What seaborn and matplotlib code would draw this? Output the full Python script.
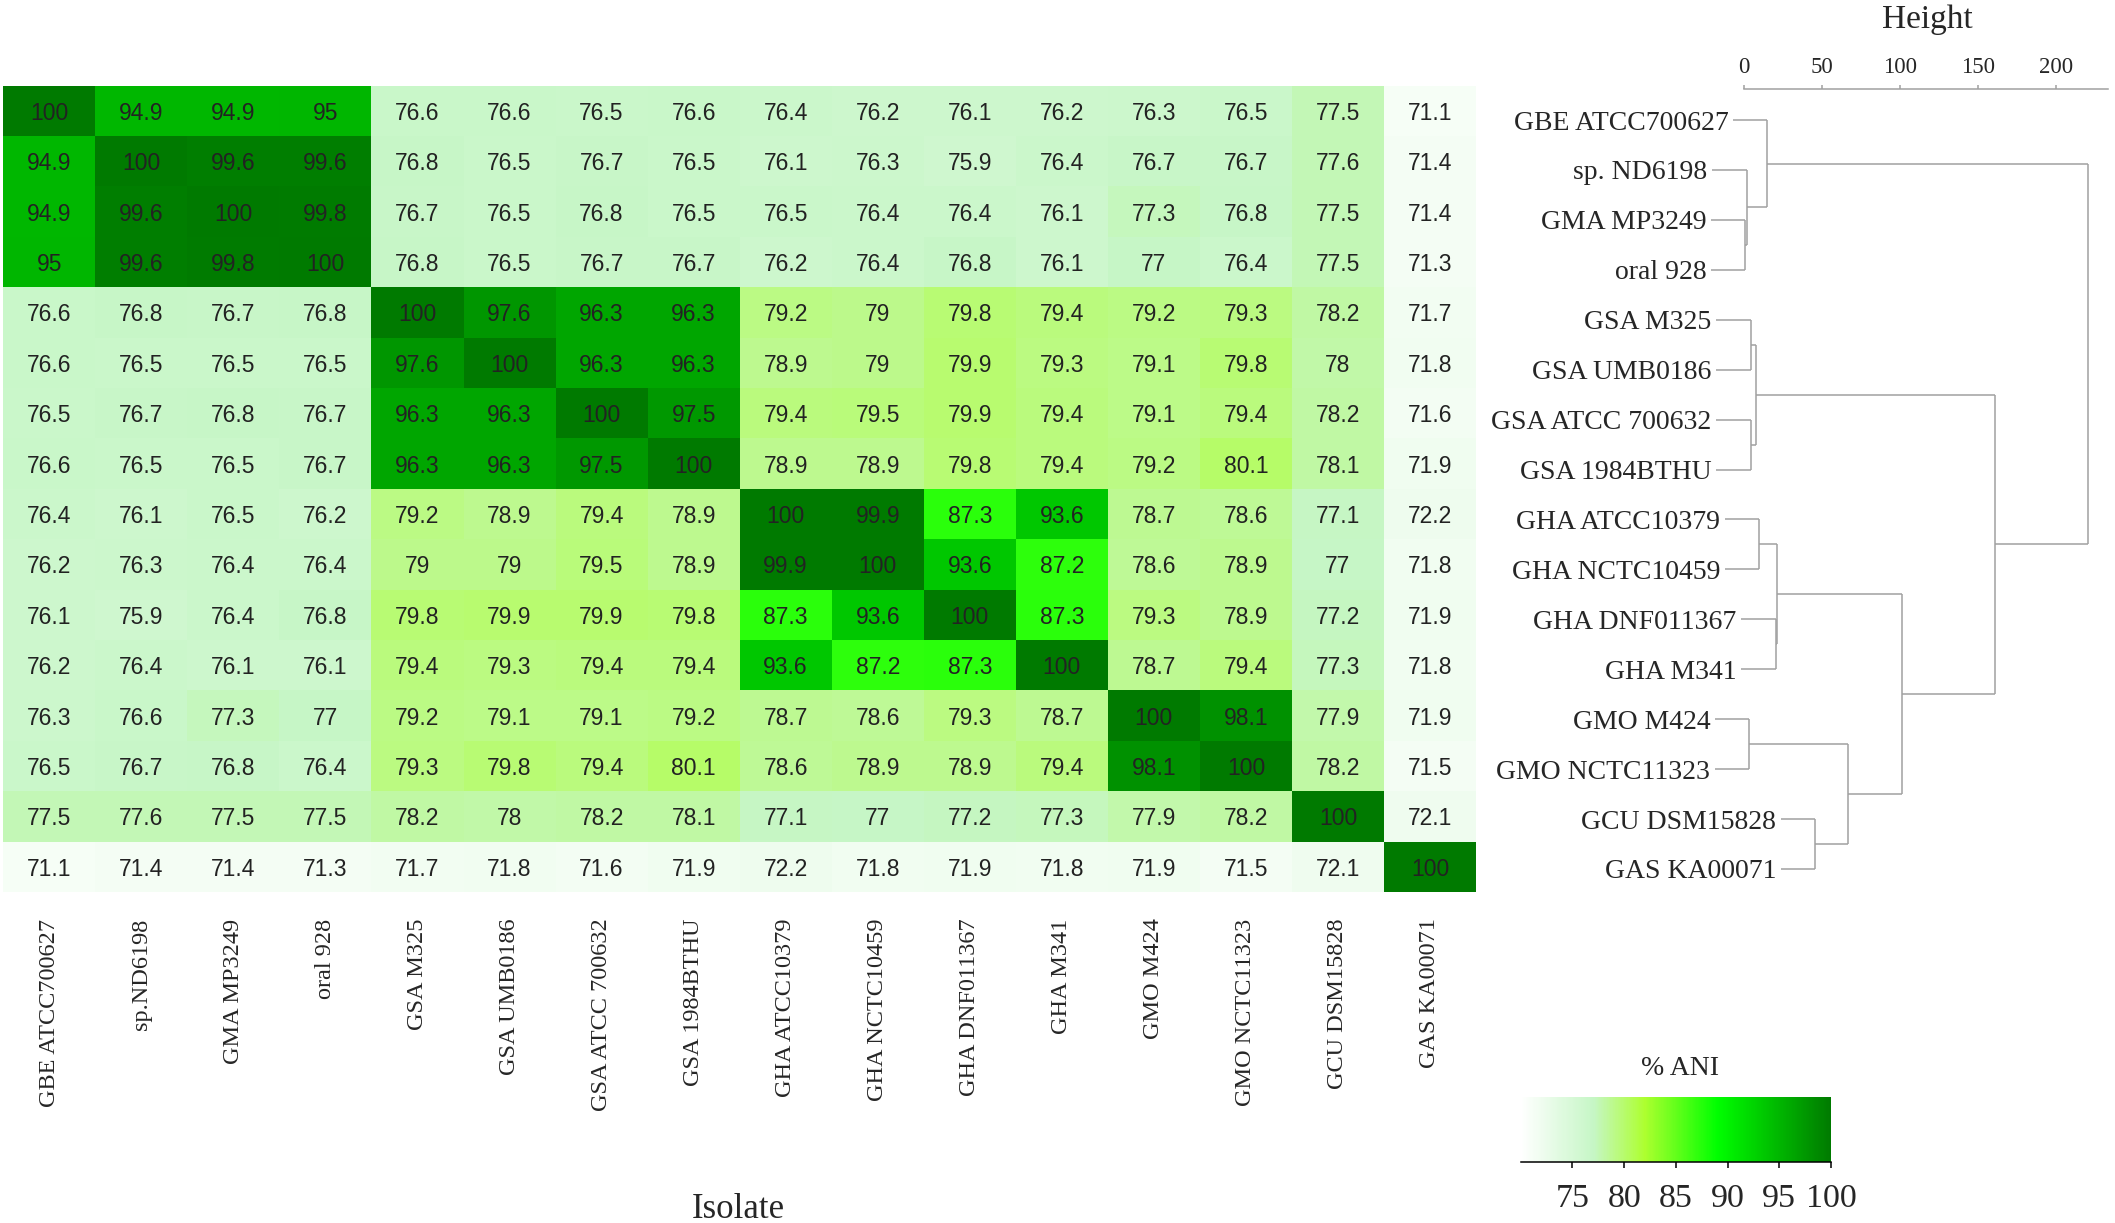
import numpy as np
import pandas as pd
import matplotlib
matplotlib.use("Agg")
import matplotlib.pyplot as plt
import seaborn as sns
from matplotlib.colors import LinearSegmentedColormap

# isolate names (rows = dendrogram labels, cols = bottom labels)
row_labels = ["GBE ATCC700627", "sp. ND6198", "GMA MP3249", "oral 928",
              "GSA M325", "GSA UMB0186", "GSA ATCC 700632", "GSA 1984BTHU",
              "GHA ATCC10379", "GHA NCTC10459", "GHA DNF011367", "GHA M341",
              "GMO M424", "GMO NCTC11323", "GCU DSM15828", "GAS KA00071"]
col_labels = ["GBE ATCC700627", "sp.ND6198", "GMA MP3249", "oral 928",
              "GSA M325", "GSA UMB0186", "GSA ATCC 700632", "GSA 1984BTHU",
              "GHA ATCC10379", "GHA NCTC10459", "GHA DNF011367", "GHA M341",
              "GMO M424", "GMO NCTC11323", "GCU DSM15828", "GAS KA00071"]

# % ANI matrix
ani = [
    [100, 94.9, 94.9, 95, 76.6, 76.6, 76.5, 76.6, 76.4, 76.2, 76.1, 76.2, 76.3, 76.5, 77.5, 71.1],
    [94.9, 100, 99.6, 99.6, 76.8, 76.5, 76.7, 76.5, 76.1, 76.3, 75.9, 76.4, 76.7, 76.7, 77.6, 71.4],
    [94.9, 99.6, 100, 99.8, 76.7, 76.5, 76.8, 76.5, 76.5, 76.4, 76.4, 76.1, 77.3, 76.8, 77.5, 71.4],
    [95, 99.6, 99.8, 100, 76.8, 76.5, 76.7, 76.7, 76.2, 76.4, 76.8, 76.1, 77, 76.4, 77.5, 71.3],
    [76.6, 76.8, 76.7, 76.8, 100, 97.6, 96.3, 96.3, 79.2, 79, 79.8, 79.4, 79.2, 79.3, 78.2, 71.7],
    [76.6, 76.5, 76.5, 76.5, 97.6, 100, 96.3, 96.3, 78.9, 79, 79.9, 79.3, 79.1, 79.8, 78, 71.8],
    [76.5, 76.7, 76.8, 76.7, 96.3, 96.3, 100, 97.5, 79.4, 79.5, 79.9, 79.4, 79.1, 79.4, 78.2, 71.6],
    [76.6, 76.5, 76.5, 76.7, 96.3, 96.3, 97.5, 100, 78.9, 78.9, 79.8, 79.4, 79.2, 80.1, 78.1, 71.9],
    [76.4, 76.1, 76.5, 76.2, 79.2, 78.9, 79.4, 78.9, 100, 99.9, 87.3, 93.6, 78.7, 78.6, 77.1, 72.2],
    [76.2, 76.3, 76.4, 76.4, 79, 79, 79.5, 78.9, 99.9, 100, 93.6, 87.2, 78.6, 78.9, 77, 71.8],
    [76.1, 75.9, 76.4, 76.8, 79.8, 79.9, 79.9, 79.8, 87.3, 93.6, 100, 87.3, 79.3, 78.9, 77.2, 71.9],
    [76.2, 76.4, 76.1, 76.1, 79.4, 79.3, 79.4, 79.4, 93.6, 87.2, 87.3, 100, 78.7, 79.4, 77.3, 71.8],
    [76.3, 76.6, 77.3, 77, 79.2, 79.1, 79.1, 79.2, 78.7, 78.6, 79.3, 78.7, 100, 98.1, 77.9, 71.9],
    [76.5, 76.7, 76.8, 76.4, 79.3, 79.8, 79.4, 80.1, 78.6, 78.9, 78.9, 79.4, 98.1, 100, 78.2, 71.5],
    [77.5, 77.6, 77.5, 77.5, 78.2, 78, 78.2, 78.1, 77.1, 77, 77.2, 77.3, 77.9, 78.2, 100, 72.1],
    [71.1, 71.4, 71.4, 71.3, 71.7, 71.8, 71.6, 71.9, 72.2, 71.8, 71.9, 71.8, 71.9, 71.5, 72.1, 100],
]

# hclust-style merges: negative = leaf (1-based), positive = earlier merge
merge_a = [-3, -2, -1, -5, -7, 4, -9, -11, 7, -13, -15, 10, 9, 6, 3]
merge_b = [-4, 1, 2, -6, -8, 5, -10, -12, 8, -14, -16, 11, 12, 13, 14]
merge_h = [0.9, 1.7, 15.0, 4.3, 4.3, 7.7, 9.8, 20.4, 21.3, 3.4, 45.6, 66.7, 101.0, 161.0, 220.7]

height_ticks = [0, 50, 100, 150, 200]
cbar_ticks = [75, 80, 85, 90, 95, 100]

sns.set_style("white")
plt.rcParams["font.family"] = ["Liberation Serif", "DejaVu Serif"]

W, H = 2115, 1223
fig = plt.figure(figsize=(W / 100, H / 100), dpi=100)

def px_axes(x0, y0, x1, y1):
    return fig.add_axes([x0 / W, 1 - y1 / H, (x1 - x0) / W, (y1 - y0) / H])

ax = px_axes(3.3, 85.7, 1476, 892)
cax = px_axes(1520.7, 1097, 1831, 1162)
dax = px_axes(1744, 89, 2108, 892)

cmap = LinearSegmentedColormap.from_list(
    "ani", [(0.0, "#ffffff"), (7 / 30, "#c6f6c6"), (12 / 30, "#adff2f"),
            (19 / 30, "#00ff00"), (1.0, "#007a00")])

df = pd.DataFrame(ani, index=row_labels, columns=col_labels)
labels = np.array([["{:g}".format(v) for v in row] for row in ani])

sns.heatmap(df, ax=ax, cmap=cmap, vmin=70, vmax=100, annot=labels, fmt="",
            annot_kws={"fontsize": 16.5, "color": "#222222", "family": "Liberation Sans",
                       "va": "center_baseline"},
            xticklabels=True, yticklabels=False, cbar_ax=cax,
            cbar_kws={"orientation": "horizontal", "ticks": cbar_ticks})
ax.set_xlabel("")
ax.set_ylabel("")
ax.tick_params(axis="x", length=0, pad=19)
for t in ax.get_xticklabels():
    t.set_rotation(90)
    t.set_fontsize(17.5)

# colorbar styling
cb = ax.collections[0].colorbar
cb.outline.set_visible(False)
cax.spines["bottom"].set_visible(True)
cax.spines["bottom"].set_color("black")
cax.spines["bottom"].set_linewidth(1.1)
cax.tick_params(axis="x", length=4.5, width=1.1, pad=11, labelsize=24.5, color="black")
fig.text(1680 / W, 1 - 1075 / H, "% ANI", ha="center", va="baseline", fontsize=20)

# dendrogram
line_kw = dict(color="#a0a0a0", lw=1.1, clip_on=False, solid_capstyle="butt")
hang = 0.1 * max(merge_h)
node_y = {}
for i, (a, b, h) in enumerate(zip(merge_a, merge_b, merge_h), start=1):
    ys = []
    for c in (a, b):
        if c < 0:
            y = -c - 1
            x0 = h - hang
            dax.text(x0 - 3.0, y, row_labels[y], ha="right", va="center_baseline",
                     fontsize=20)
        else:
            y = node_y[c]
            x0 = merge_h[c - 1]
        dax.plot([x0, h], [y, y], **line_kw)
        ys.append(y)
    dax.plot([h, h], ys, **line_kw)
    node_y[i] = np.mean(ys)

dax.set_xlim(0, 233.3)
dax.set_ylim(15 + 23 / 49.93, -31 / 49.93)
for s in ["left", "right", "bottom"]:
    dax.spines[s].set_visible(False)
dax.spines["top"].set_color("#a0a0a0")
dax.spines["top"].set_linewidth(1.1)
dax.xaxis.tick_top()
dax.set_xticks(height_ticks)
dax.set_yticks([])
dax.tick_params(axis="x", direction="out", length=3, width=1.1, color="#a0a0a0",
                pad=5, labelsize=16.5)
fig.text(1927 / W, 1 - 28 / H, "Height", ha="center", va="baseline", fontsize=24)

fig.text(738 / W, 1 - 1218 / H, "Isolate", ha="center", va="baseline", fontsize=25)

fig.savefig("out.png", dpi=100)
